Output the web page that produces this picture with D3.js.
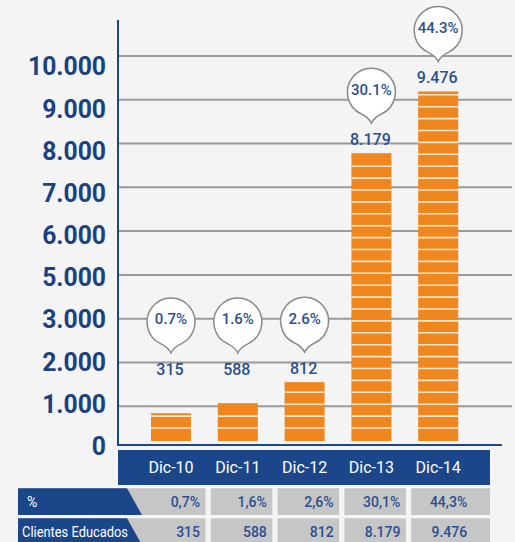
<!DOCTYPE html>
<html>
<head>
<meta charset="utf-8">
<script src="https://cdn.jsdelivr.net/npm/d3@7"></script>
<style>
    body { margin: 0; background: #f4f4f4; }
    svg { display: block; font-family: Roboto, "Noto Sans", sans-serif; }
</style>
</head>
<body>
<svg width="515" height="542"></svg>
<script>
// data
var months = ["Dic-10", "Dic-11", "Dic-12", "Dic-13", "Dic-14"];
var clients = [315, 588, 812, 8179, 9476];
var pct = [0.7, 1.6, 2.6, 30.1, 44.3];
// bar tops as read against the gridlines (gridline index, 0 = baseline)
var barLevel = [0.84, 1.07, 1.55, 6.78, 8.19];
// axis labels as printed (4.000 is missing in the original)
var yLabels = ["0", "1.000", "2.000", "3.000", "5.000", "6.000", "7.000", "8.000", "9.000", "10.000"];
var rowLabels = ["%", "Clientes Educados"];

var blue = "#1b468a",
    textBlue = "#2b4f90",
    orange = "#f0861e";

var es = d3.formatLocale({ decimal: ",", thousands: ".", grouping: [3], currency: ["", ""] });
var fmtNum = es.format(",");
var fmtPctDot = function(v) { return d3.format(".1f")(v) + "%"; };
var fmtPctComma = function(v) { return es.format(".1f")(v) + "%"; };

var svg = d3.select("svg");

var x = d3.scalePoint().domain(months).range([137.6, 471.6]).padding(0.5);
var y = d3.scaleLinear().domain([0, 9]).range([450, 56]);      // gridlines
var yLab = d3.scaleLinear().domain([0, 9]).range([445, 65.5]); // axis labels

/* gridlines */
svg.append("g").selectAll("line")
    .data(d3.range(1, 10))
    .enter().append("line")
    .attr("x1", 119).attr("x2", 512)
    .attr("y1", function(d) { return y(d); })
    .attr("y2", function(d) { return y(d); })
    .attr("stroke", "#9a9a9a")
    .attr("stroke-width", 2);

/* y axis labels */
var axis = svg.append("g")
    .attr("transform", "translate(106,0)")
    .call(d3.axisLeft(yLab)
        .tickValues(d3.range(yLabels.length))
        .tickSize(0)
        .tickPadding(0)
        .tickFormat(function(i) { return yLabels[i]; }));
axis.select(".domain").remove();
axis.selectAll("text")
    .attr("font-family", "Roboto, sans-serif")
    .attr("font-size", 26)
    .attr("font-weight", "bold")
    .attr("fill", "#1c4181")
    .attr("dy", "0.36em")
    .each(function() {
        var w = this.getComputedTextLength();
        d3.select(this).attr("textLength", w * 0.95).attr("lengthAdjust", "spacingAndGlyphs");
    });

/* bars with stripes */
var barBottom = 441, bw = 40, stripeStep = 11.9;
var bars = svg.append("g");
months.forEach(function(m, i) {
    var top = y(barLevel[i]);
    bars.append("rect")
        .attr("x", x(m) - bw / 2)
        .attr("y", top)
        .attr("width", bw)
        .attr("height", barBottom - top)
        .attr("fill", orange);
    var stripes = d3.range(0, 40).map(function(k) { return 428 - k * stripeStep; })
        .filter(function(s) { return s > top + 2; });
    bars.selectAll(null)
        .data(stripes)
        .enter().append("line")
        .attr("x1", x(m) - bw / 2).attr("x2", x(m) + bw / 2)
        .attr("y1", function(d) { return d; })
        .attr("y2", function(d) { return d; })
        .attr("stroke", "#fde6cc")
        .attr("stroke-width", 1.6);
});

/* axis lines */
svg.append("line")
    .attr("x1", 118).attr("x2", 118).attr("y1", 20).attr("y2", 446)
    .attr("stroke", blue).attr("stroke-width", 2);
svg.append("line")
    .attr("x1", 117).attr("x2", 502).attr("y1", 445).attr("y2", 445)
    .attr("stroke", blue).attr("stroke-width", 2);

/* value labels and bubbles */
var r = 24, th = 0.45;
function bubblePath(cx, cy) {
    var sx = r * Math.sin(th), sy = r * Math.cos(th), tip = cy + r + 7;
    return "M" + (cx - sx) + "," + (cy + sy) +
        "A" + r + "," + r + " 0 1 1 " + (cx + sx) + "," + (cy + sy) +
        "Q" + (cx + 3) + "," + (cy + r + 1) + " " + cx + "," + tip +
        "Q" + (cx - 3) + "," + (cy + r + 1) + " " + (cx - sx) + "," + (cy + sy) + "Z";
}

months.forEach(function(m, i) {
    var base = Math.min(375, y(barLevel[i]) - 8);
    var cx = x(m), cy = base - 53;
    svg.append("text")
        .attr("x", cx - 1)
        .attr("y", base)
        .attr("text-anchor", "middle")
        .attr("font-size", 16)
        .attr("font-weight", 500)
        .attr("fill", textBlue)
        .text(fmtNum(clients[i]));
    svg.append("path")
        .attr("d", bubblePath(cx, cy))
        .attr("fill", "#fff")
        .attr("stroke", "#8a8a8a")
        .attr("stroke-width", 1.5);
    svg.append("text")
        .attr("x", cx)
        .attr("y", cy - 3)
        .attr("dy", "0.36em")
        .attr("text-anchor", "middle")
        .attr("font-size", 15)
        .attr("font-weight", 500)
        .attr("fill", textBlue)
        .text(fmtPctDot(pct[i]));
});

/* table */
svg.append("rect")
    .attr("x", 118).attr("y", 450).attr("width", 372).attr("height", 35)
    .attr("fill", blue);
svg.append("g").selectAll("text")
    .data(months)
    .enter().append("text")
    .attr("x", function(d) { return x(d); })
    .attr("y", 467.5)
    .attr("dy", "0.36em")
    .attr("text-anchor", "middle")
    .attr("font-size", 16)
    .attr("fill", "#fff")
    .text(function(d) { return d; });

var rows = [pct.map(fmtPctComma), clients.map(fmtNum)];
var rowTop = [488.3, 518.3], rowH = 26.7;

rows.forEach(function(vals, ri) {
    var t = rowTop[ri], g = svg.append("g");
    months.forEach(function(m, i) {
        var left = i === 0 ? 18 : x(m) - 27,
            right = i === months.length - 1 ? 490 : x(m) + 34.5;
        g.append("rect")
            .attr("x", left).attr("y", t)
            .attr("width", right - left).attr("height", rowH)
            .attr("fill", "#c6c6c6");
        g.append("text")
            .attr("x", x(m) + 29)
            .attr("y", t + rowH / 2)
            .attr("dy", "0.36em")
            .attr("text-anchor", "end")
            .attr("font-size", 14)
            .attr("font-weight", 500)
            .attr("fill", textBlue)
            .text(vals[i]);
    });
    g.append("path")
        .attr("d", "M18," + t + "H127L142," + (t + rowH) + "H18Z")
        .attr("fill", blue);
    var lbl = g.append("text")
        .attr("x", ri === 0 ? 27 : 22)
        .attr("y", t + rowH / 2)
        .attr("dy", "0.36em")
        .attr("font-size", 14)
        .attr("fill", "#fff")
        .text(rowLabels[ri]);
    if (ri === 1) lbl.attr("textLength", 106).attr("lengthAdjust", "spacingAndGlyphs");
});
</script>
</body>
</html>
